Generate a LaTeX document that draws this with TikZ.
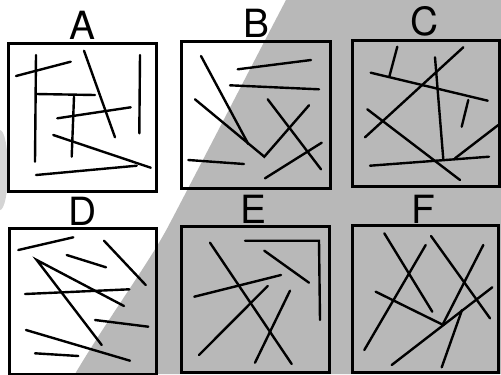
\documentclass[tikz,border=0pt]{standalone}
\usepackage{fontspec}
\setmainfont{TeX Gyre Heros}
\definecolor{halftone}{RGB}{184,184,184}
\definecolor{blotch}{RGB}{212,212,212}
\tikzset{
  frame/.style={draw=black,line width=3bp},
  seg/.style={draw=black,line width=2.4bp,line cap=round},
  lbl/.style={anchor=base,inner sep=0pt,font=\fontsize{39}{39}\selectfont}
}
\begin{document}
\begin{tikzpicture}[x=1bp,y=-1bp]
\useasboundingbox (0,0) rectangle (501,374);
\fill[white] (0,0) rectangle (501,374);
% halftone background
\fill[halftone] (286,0) .. controls (265,40) and (190,185) .. (170,223)
  .. controls (150,262) and (110,315) .. (75,374) -- (501,374) -- (501,0) -- cycle;
\fill[blotch] (0,170) ellipse [x radius=8, y radius=40];
% frames
\draw[frame] (8,43) rectangle (156,191);
\draw[frame] (181,41) rectangle (330,188);
\draw[frame] (352,40) rectangle (499,186);
\draw[frame] (9,228) rectangle (156,374);
\draw[frame] (181,226) rectangle (329,372);
\draw[frame] (352,225) rectangle (498,372);
% labels
\node[lbl] (la) at (82.7,39.5) {A};
\node[lbl] (lb) at (256.7,37) {B};
\node[lbl] (lc) at (425,35) {C};
\node[lbl] (ld) at (83,225) {D};
\node[lbl] (le) at (253,223) {E};
\node[lbl] (lf) at (423,223) {F};
% box A
\draw[seg] (36,55) -- (35,161.7);
\draw[seg] (16,76) -- (70.7,61.7);
\draw[seg] (36,94) -- (95,95);
\draw[seg] (84,50.7) -- (115,137.3);
\draw[seg] (140,55) -- (139.3,133.3);
\draw[seg] (74,96.7) -- (71.7,156.7);
\draw[seg] (57.3,118.3) -- (130.7,107.3);
\draw[seg] (53.3,135) -- (150.7,167.7);
\draw[seg] (36,175) -- (136.7,165.7);
% box B
\draw[seg] (201,56) -- (248.3,144);
\draw[seg] (195,99.3) -- (264.3,156.7) -- (309,105.3);
\draw[seg] (237.7,69.3) -- (311,60);
\draw[seg] (230,85.3) -- (319,89.3);
\draw[seg] (267.7,99.3) -- (321,169.3);
\draw[seg] (265,178.3) -- (321.7,142.7);
\draw[seg] (188.3,160) -- (244,164);
% box C
\draw[seg] (397.3,46.7) -- (389.3,76.7);
\draw[seg] (370.7,72.7) -- (487.7,100.7);
\draw[seg] (463.3,47.3) -- (365,137.3);
\draw[seg] (435,57.3) -- (443.3,159.3);
\draw[seg] (468.3,100) -- (461.7,126.7);
\draw[seg] (367.3,109.3) -- (460,180);
\draw[seg] (370,165.7) -- (489,156.7);
\draw[seg] (455,158.3) -- (498.3,125);
% box D
\draw[seg] (18.3,250) -- (73.3,237.3);
\draw[seg] (66.7,255) -- (106,267.3);
\draw[seg] (104,240.7) -- (145.7,285);
\draw[seg] (124,306) -- (36.7,260) -- (101.7,345);
\draw[seg] (25,294) -- (129.3,289.3);
\draw[seg] (95,320) -- (148.3,326.7);
\draw[seg] (26,330) -- (130,360.7);
\draw[seg] (35,353.3) -- (78.3,356);
% box E
\draw[seg] (245,240.7) -- (319,240.7) -- (320,320);
\draw[seg] (264.3,250.7) -- (309,282.7);
\draw[seg] (210,242.7) -- (291.7,364);
\draw[seg] (194.3,296.7) -- (281,275);
\draw[seg] (267.7,286) -- (199,355);
\draw[seg] (290,290.7) -- (255,362.7);
% box F
\draw[seg] (384.3,233.3) -- (432.3,311.7);
\draw[seg] (425.7,245) -- (364.3,350);
\draw[seg] (431,236) -- (490,318.3);
\draw[seg] (483.3,245) -- (443.3,323.3);
\draw[seg] (375.7,291.7) -- (443.3,325);
\draw[seg] (492.3,287.3) -- (391.7,365);
\draw[seg] (462,310) -- (441.7,367.3);
\end{tikzpicture}
\end{document}
